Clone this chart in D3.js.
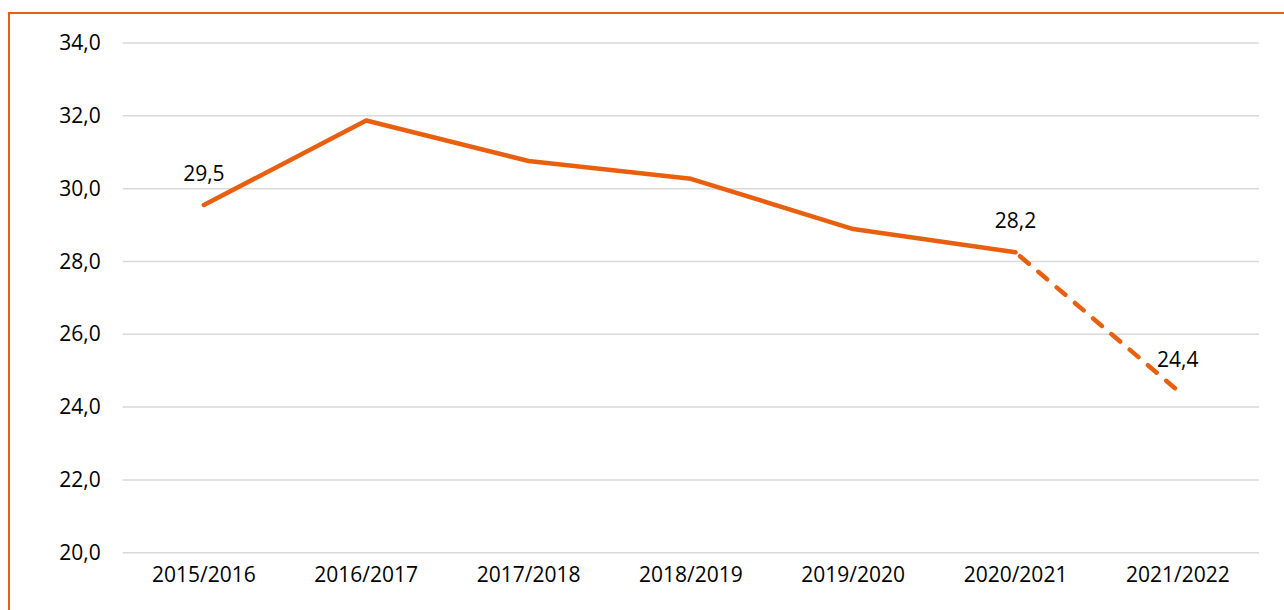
<!DOCTYPE html>
<html>
<head>
<meta charset="utf-8">
<script src="https://cdn.jsdelivr.net/npm/d3@7"></script>
<style>
  body { margin: 0; background: #fff; }
  svg { display: block; font-family: "Open Sans", sans-serif; }
</style>
</head>
<body>
<svg id="chart" width="1284" height="610"></svg>
<script>
// Schooljaren en waarden
const years = ['2015/2016', '2016/2017', '2017/2018', '2018/2019', '2019/2020', '2020/2021', '2021/2022'];
const values = [29.55, 31.87, 30.76, 30.27, 28.89, 28.25, 24.45];
const yTicks = [20, 22, 24, 26, 28, 30, 32, 34];
// Labels shown only at a few points
const pointLabels = ['29,5', null, null, null, null, '28,2', '24,4'];
const forecastFrom = 5; // last segment is dashed

const orange = '#E8600F';
const width = 1284, height = 610;
const margin = { top: 43, right: 25, bottom: 57.3, left: 122.7 };
const fontSize = 21;

const svg = d3.select('#chart');

// Orange frame
svg.append('rect')
    .attr('x', 9).attr('y', 13)
    .attr('width', 1400).attr('height', 800)
    .attr('fill', 'none')
    .attr('stroke', orange)
    .attr('stroke-width', 2);

const x = d3.scaleBand()
    .domain(years)
    .range([margin.left, width - margin.right]);

const y = d3.scaleLinear()
    .domain([20, 34])
    .range([height - margin.bottom, margin.top]);

// Gridlines
svg.append('g')
    .selectAll('line')
    .data(yTicks)
    .join('line')
    .attr('x1', margin.left)
    .attr('x2', width - margin.right)
    .attr('y1', d => y(d))
    .attr('y2', d => y(d))
    .attr('stroke', '#d9d9d9')
    .attr('stroke-width', 1.5);

// Y axis labels
const fmt = d => d3.format('.1f')(d).replace('.', ',');
const yAxis = svg.append('g')
    .attr('transform', `translate(${margin.left - 22},0)`)
    .call(d3.axisLeft(y).tickValues(yTicks).tickFormat(fmt).tickSize(0).tickPadding(0));
yAxis.select('.domain').remove();
yAxis.selectAll('text')
    .attr('font-family', '"Open Sans", sans-serif')
    .attr('font-size', fontSize)
    .attr('fill', '#000');

// X axis labels
const xAxis = svg.append('g')
    .attr('transform', `translate(0,${y(20)})`)
    .call(d3.axisBottom(x).tickSize(0).tickPadding(14));
xAxis.select('.domain').remove();
xAxis.selectAll('text')
    .attr('font-family', '"Open Sans", sans-serif')
    .attr('font-size', fontSize)
    .attr('fill', '#000');

const pts = years.map((yr, i) => ({ yr, v: values[i], label: pointLabels[i] }));
const cx = d => x(d.yr) + x.bandwidth() / 2;

const line = d3.line()
    .x(cx)
    .y(d => y(d.v));

svg.append('path')
    .datum(pts.slice(0, forecastFrom + 1))
    .attr('d', line)
    .attr('fill', 'none')
    .attr('stroke', orange)
    .attr('stroke-width', 4.5)
    .attr('stroke-linejoin', 'round')
    .attr('stroke-linecap', 'round');

svg.append('path')
    .datum(pts.slice(forecastFrom))
    .attr('d', line)
    .attr('fill', 'none')
    .attr('stroke', orange)
    .attr('stroke-width', 4.5)
    .attr('stroke-dasharray', '11.5,12.5')
    .attr('stroke-dashoffset', -6)
    .attr('stroke-linecap', 'round');

// Data labels
svg.append('g')
    .selectAll('text')
    .data(pts.filter(d => d.label))
    .join('text')
    .attr('x', cx)
    .attr('y', d => y(d.v) - 24)
    .attr('text-anchor', 'middle')
    .attr('font-size', fontSize)
    .attr('fill', '#000')
    .text(d => d.label);
</script>
</body>
</html>
